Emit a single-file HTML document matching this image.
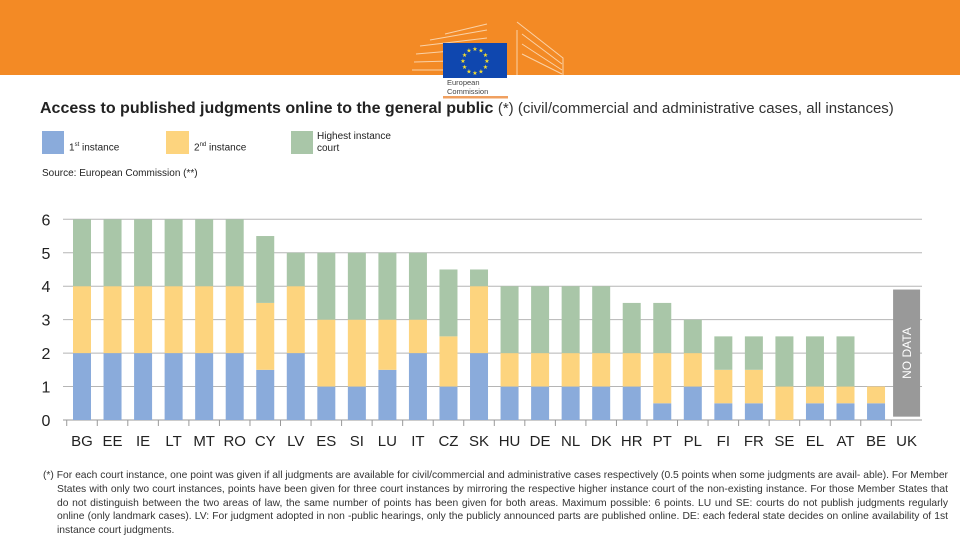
<!DOCTYPE html>
<html><head><meta charset="utf-8"><style>
body{margin:0;width:960px;height:540px;overflow:hidden;background:#fff;font-family:"Liberation Sans",sans-serif;color:#222;position:relative}
.abs{position:absolute;white-space:nowrap}
</style></head><body>
<div class="abs" style="left:0;top:0;width:960px;height:75px;background:#f38a25"></div>
<svg class="abs" style="left:0;top:0" width="960" height="110">
 <g stroke="#fbe3c8" stroke-width="1" fill="none" opacity="0.8">
  <path d="M412 70 L487 70 M414 62 L487 60 M416 54 L487 48 M420 46 L487 38 M430 40 L487 30 M445 34 L487 24"/>
  <path d="M517 30 L517 75 M517 22 L540 40 L563 58 L563 75 M522 34 L562 64 M522 44 L562 70 M522 54 L562 74"/>
 </g>
 <rect x="443" y="43" width="64" height="35" fill="#0f47af"/>
 <rect x="443" y="96" width="65" height="2.5" fill="#f0a060"/>
</svg>
<svg class="abs" style="left:0;top:0" width="960" height="110" id="stars"></svg>
<div class="abs" style="left:447px;top:78px;font-size:7.5px;line-height:9px;color:#444">European<br>Commission</div>
<div class="abs" style="left:40px;top:100px;font-size:16px"><b>Access to published judgments online to the general public</b> <span style="font-size:15px;color:#333">(*) (civil/commercial and administrative cases, all instances)</span></div>
<div class="abs" style="left:42px;top:131px;width:22px;height:23px;background:#8aabdb"></div>
<div class="abs" style="left:69px;top:142px;font-size:10px">1<sup style="font-size:6px">st</sup> instance</div>
<div class="abs" style="left:166px;top:131px;width:23px;height:23px;background:#fdd47e"></div>
<div class="abs" style="left:194px;top:142px;font-size:10px">2<sup style="font-size:6px">nd</sup> instance</div>
<div class="abs" style="left:291px;top:131px;width:22px;height:23px;background:#a9c6a8"></div>
<div class="abs" style="left:317px;top:131px;font-size:10px;line-height:12px">Highest instance<br>court</div>
<div class="abs" style="left:42px;top:168px;font-size:10px">Source: European Commission (**)</div>
<svg class="abs" style="left:0;top:0" width="960" height="460" id="chart"></svg>
<div class="abs" style="left:43px;top:469px;font-size:10.3px;line-height:13.8px;color:#333;white-space:normal;width:905px;text-align:justify">
<div style="padding-left:14px;text-indent:-14px">(*) For each court instance, one point was given if all judgments are available for civil/commercial and administrative cases respectively (0.5 points when some judgments are avail- able). For Member States with only two court instances, points have been given for three court instances by mirroring the respective higher instance court of the non-existing instance. For those Member States that do not distinguish between the two areas of law, the same number of points has been given for both areas. Maximum possible: 6 points. LU und SE: courts do not publish judgments regularly online (only landmark cases). LV: For judgment adopted in non -public hearings, only the publicly announced parts are published online. DE: each federal state decides on online availability of 1st instance court judgments.</div></div>
<script>
const categories=["BG","EE","IE","LT","MT","RO","CY","LV","ES","SI","LU","IT","CZ","SK","HU","DE","NL","DK","HR","PT","PL","FI","FR","SE","EL","AT","BE","UK"];
const first=[2,2,2,2,2,2,1.5,2,1,1,1.5,2,1,2,1,1,1,1,1,0.5,1,0.5,0.5,0,0.5,0.5,0.5,null];
const second=[2,2,2,2,2,2,2,2,2,2,1.5,1,1.5,2,1,1,1,1,1,1.5,1,1,1,1,0.5,0.5,0.5,null];
const highest=[2,2,2,2,2,2,2,1,2,2,2,2,2,0.5,2,2,2,2,1.5,1.5,1,1,1,1.5,1.5,1.5,0,null];
const yTicks=[0,1,2,3,4,5,6];
const NS="http://www.w3.org/2000/svg";
const svg=document.getElementById('chart');
const y=v=>420-v*33.45;
const xc=i=>82+i*30.54;
const bw=18;
function mk(t,a){const e=document.createElementNS(NS,t);for(const k in a)e.setAttribute(k,a[k]);svg.appendChild(e);return e;}
yTicks.forEach(t=>{
 if(t>0){const g=mk('line',{x1:63,x2:922,y1:y(t),y2:y(t),stroke:'#b5b5b5','stroke-width':1});
 
 }
 const l=mk('text',{x:46,y:y(t)+6,'font-size':16,'text-anchor':'middle',fill:'#222'});
 l.textContent=t;
 
 
});
const ax=mk('line',{x1:63,x2:922,y1:420,y2:420,stroke:'#999','stroke-width':1});


categories.forEach((c,i)=>{
 const tx=xc(i)-15.27;
 const tk=mk('line',{x1:tx,x2:tx,y1:420,y2:426,stroke:'#999'});
 
 
 const l=mk('text',{x:xc(i),y:446,'font-size':15,'text-anchor':'middle',fill:'#222'});
 l.textContent=c;
 
 
 if(first[i]===null){
  const r=mk('rect',{x:xc(i)-13.5,y:y(3.9),width:27,height:y(0.1)-y(3.9),fill:'#999'});
  
  
  const t=mk('text',{x:0,y:0,'font-size':12,fill:'#fff','text-anchor':'middle',transform:`translate(${xc(i)+4.5},${y(2)}) rotate(-90)`});
  t.textContent='NO DATA';
  
  
  return;
 }
 let base=0;
 [[first,'#8aabdb','1st'],[second,'#fdd47e','2nd'],[highest,'#a9c6a8','highest']].forEach(([arr,col,nm])=>{
  const v=arr[i];
  if(v>0){const r=mk('rect',{x:xc(i)-bw/2,y:y(base+v),width:bw,height:y(base)-y(base+v),fill:col});
  
  }
  base+=v;
 });
});
const st=document.getElementById('stars');
for(let k=0;k<12;k++){const a=k*Math.PI/6;const t=document.createElementNS(NS,'text');
t.setAttribute('x',475+12*Math.sin(a));t.setAttribute('y',63-12*Math.cos(a));
t.setAttribute('font-size','6');t.setAttribute('fill','#f7e02f');t.setAttribute('text-anchor','middle');
t.textContent='★';st.appendChild(t);}
</script>
</body></html>
